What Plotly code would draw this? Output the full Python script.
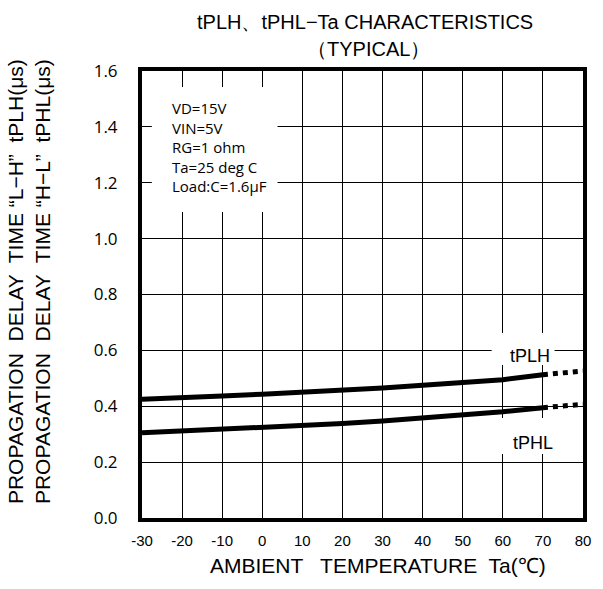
import plotly.graph_objects as go

temps = [-30, -20, -10, 0, 10, 20, 30, 40, 50, 60, 70]
tplh = [0.425, 0.433, 0.437, 0.443, 0.450, 0.456, 0.465, 0.475, 0.485, 0.495, 0.513]
tphl = [0.305, 0.311, 0.318, 0.326, 0.330, 0.338, 0.347, 0.358, 0.368, 0.380, 0.395]
temps_ext = [70, 80]
tplh_ext = [0.513, 0.526]
tphl_ext = [0.395, 0.407]

x_ticks = [-30, -20, -10, 0, 10, 20, 30, 40, 50, 60, 70, 80]
y_ticks = [0.0, 0.2, 0.4, 0.6, 0.8, 1.0, 1.2, 1.4, 1.6]

conditions = ["VD=15V", "VIN=5V", "RG=1 ohm", "Ta=25 deg C", "Load:C=1.6μF"]

W, H = 603, 589
L, R, T, B = 142, 12, 71, 71
PW = W - L - R
PH = H - T - B


def px(x):
    return (x - L) / PW


def py(y):
    return 1 - (y - T) / PH


fig = go.Figure()
for ys, ye in [(tplh, tplh_ext), (tphl, tphl_ext)]:
    fig.add_trace(go.Scatter(x=temps, y=ys, mode="lines",
                             line=dict(color="black", width=5), showlegend=False))
    fig.add_trace(go.Scatter(x=temps_ext, y=ye, mode="lines",
                             line=dict(color="black", width=5, dash="dot"), showlegend=False))

ann_font = dict(family="Liberation Sans, Arial", size=21, color="black")


def white_box(x0, y0, x1, y1):
    return dict(type="rect", xref="paper", yref="paper",
                x0=px(x0), x1=px(x1), y0=py(y1), y1=py(y0),
                fillcolor="white", line=dict(width=0), layer="above")


shapes = [
    white_box(152, 87, 280, 212),
    white_box(498, 333, 562, 365),
    white_box(505, 418, 563, 454),
]

annotations = [
    dict(text="tPLH、tPHL−Ta CHARACTERISTICS", x=px(369), y=py(22.5), xref="paper", yref="paper",
         showarrow=False, font=dict(family="Liberation Sans, Arial", size=20, color="black"),
         xanchor="center", yanchor="middle"),
    dict(text="（TYPICAL）", x=px(373), y=py(49), xref="paper", yref="paper",
         showarrow=False, font=dict(family="Liberation Sans, Arial", size=20, color="black"),
         xanchor="center", yanchor="middle"),
    dict(text="AMBIENT   TEMPERATURE  Ta(℃)", x=px(382), y=py(565), xref="paper", yref="paper",
         showarrow=False, font=ann_font, xanchor="center", yanchor="middle"),
    dict(text="PROPAGATION  DELAY  TIME “L−H”  tPLH(μs)<br>PROPAGATION  DELAY  TIME “H−L”  tPHL(μs)",
         x=px(27), y=py(282), xref="paper", yref="paper", textangle=-90,
         showarrow=False, font=ann_font, xanchor="center", yanchor="middle"),
    dict(text="<br>".join(conditions), x=px(172), y=py(97), xref="paper", yref="paper",
         showarrow=False, align="left", xanchor="left", yanchor="top", borderpad=0,
         font=dict(family="Open Sans, Noto Sans", size=15, color="black")),
    dict(text="tPLH", x=px(537), y=py(356), xref="paper", yref="paper",
         showarrow=False, xanchor="center", yanchor="middle",
         font=dict(family="Liberation Sans, Arial", size=18, color="black")),
    dict(text="tPHL", x=px(540), y=py(443), xref="paper", yref="paper",
         showarrow=False, xanchor="center", yanchor="middle",
         font=dict(family="Liberation Sans, Arial", size=18, color="black")),
]

fig.update_layout(
    width=W, height=H,
    margin=dict(l=L, r=R, t=T, b=B, pad=0),
    paper_bgcolor="white", plot_bgcolor="white",
    annotations=annotations, shapes=shapes,
    xaxis=dict(range=[-30, 80], tickvals=x_ticks, ticktext=[str(v) for v in x_ticks],
               showgrid=True, gridcolor="black", gridwidth=1, zeroline=False,
               showline=True, linecolor="black", linewidth=4, mirror=True,
               ticks="", ticklabelstandoff=6,
               tickfont=dict(family="Liberation Sans, Arial", size=15, color="black")),
    yaxis=dict(range=[0, 1.6], tickvals=y_ticks, ticktext=[f"{v:.1f}" for v in y_ticks],
               showgrid=True, gridcolor="black", gridwidth=1, zeroline=False,
               showline=True, linecolor="black", linewidth=4, mirror=True,
               ticks="", ticklabelstandoff=17,
               tickfont=dict(family="Open Sans, Noto Sans", size=17, color="black")),
)

fig.write_html("out.html", config={"displayModeBar": False},
               post_script="document.body.style.margin='0';")
